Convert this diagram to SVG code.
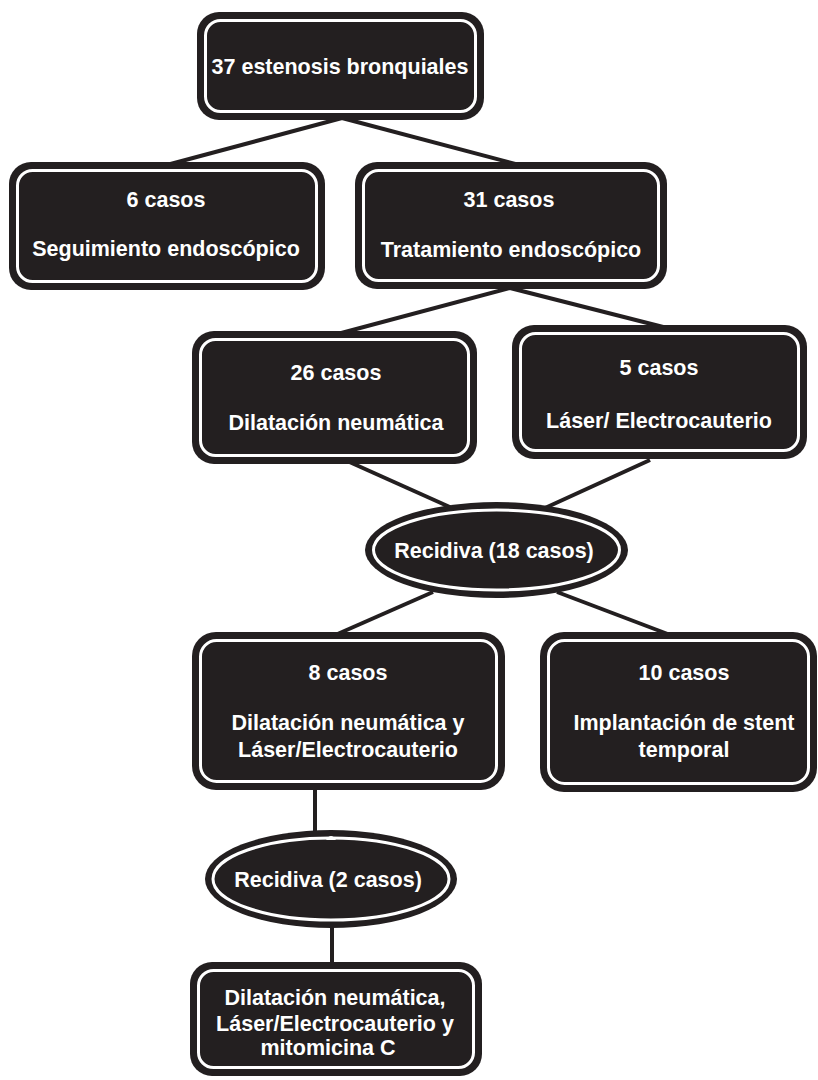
<svg xmlns="http://www.w3.org/2000/svg" width="818" height="1080" viewBox="0 0 818 1080">
<style>
.o{fill:#231f20;}
.r{fill:none;stroke:#fff;stroke-width:3;}
.t{fill:#fff;font-family:"Liberation Sans",Arial,sans-serif;font-weight:bold;font-size:21.5px;text-anchor:middle;}
.c line{stroke:#231f20;stroke-width:4;}
</style>
<rect width="818" height="1080" fill="#fff"/>
<g class="c" id="connectors">
<line x1="342" y1="118" x2="163" y2="166"/>
<line x1="342" y1="118" x2="523" y2="166"/>
<line x1="510" y1="288" x2="330" y2="336"/>
<line x1="510" y1="288" x2="675" y2="330"/>
<line x1="345" y1="460" x2="452" y2="508"/>
<line x1="650" y1="460" x2="545" y2="508"/>
<line x1="433" y1="592" x2="333" y2="636"/>
<line x1="557" y1="592" x2="673" y2="636"/>
<line x1="315" y1="786" x2="315" y2="836"/>
<line x1="332" y1="922" x2="332" y2="966"/>
</g>
<g id="n1"><rect class="o" x="197" y="12" width="287" height="108" rx="22"/><rect class="r" x="205.5" y="20.5" width="270" height="91" rx="15"/>
<text class="t" x="340" y="74">37 estenosis bronquiales</text></g>
<g id="n2"><rect class="o" x="9" y="162" width="316" height="128" rx="22"/><rect class="r" x="17.5" y="170.5" width="299" height="111" rx="15"/>
<text class="t" x="166" y="207">6 casos</text><text class="t" x="166" y="256">Seguimiento endoscópico</text></g>
<g id="n3"><rect class="o" x="355" y="162" width="312" height="127" rx="22"/><rect class="r" x="363.5" y="170.5" width="295" height="110" rx="15"/>
<text class="t" x="509" y="207">31 casos</text><text class="t" x="511" y="257">Tratamiento endoscópico</text></g>
<g id="n4"><rect class="o" x="192" y="331" width="285" height="133" rx="22"/><rect class="r" x="200.5" y="339.5" width="268" height="116" rx="15"/>
<text class="t" x="336" y="380">26 casos</text><text class="t" x="336" y="430">Dilatación neumática</text></g>
<g id="n5"><rect class="o" x="512" y="325" width="295" height="134" rx="22"/><rect class="r" x="520.5" y="333.5" width="278" height="117" rx="15"/>
<text class="t" x="659" y="375">5 casos</text><text class="t" x="659" y="428">Láser/ Electrocauterio</text></g>
<g id="e1"><ellipse class="o" cx="496.5" cy="550" rx="131.5" ry="48"/><ellipse class="r" cx="496.5" cy="550" rx="123" ry="40"/>
<text class="t" x="494" y="558">Recidiva (18 casos)</text></g>
<g id="n6"><rect class="o" x="192" y="632" width="313" height="158" rx="24"/><rect class="r" x="200.5" y="640.5" width="296" height="141" rx="16"/>
<text class="t" x="348" y="680">8 casos</text><text class="t" x="348" y="730">Dilatación neumática y</text><text class="t" x="348" y="757">Láser/Electrocauterio</text></g>
<g id="n7"><rect class="o" x="540" y="632" width="277" height="160" rx="24"/><rect class="r" x="548.5" y="640.5" width="260" height="143" rx="16"/>
<text class="t" x="684" y="680">10 casos</text><text class="t" x="684" y="730">Implantación de stent</text><text class="t" x="684" y="757">temporal</text></g>
<g id="e2"><ellipse class="o" cx="331" cy="879" rx="126" ry="49"/><ellipse class="r" cx="331" cy="879" rx="118" ry="41"/>
<path d="M326 840 Q331 832 336 840 Z" fill="#fff"/>
<text class="t" x="328" y="887">Recidiva (2 casos)</text></g>
<g id="n8"><rect class="o" x="190" y="962" width="292" height="114" rx="22"/><rect class="r" x="198.5" y="970.5" width="275" height="97" rx="15"/>
<text class="t" x="335" y="1005">Dilatación neumática,</text><text class="t" x="335" y="1031">Láser/Electrocauterio y</text><text class="t" x="328" y="1055">mitomicina C</text></g>
</svg>
